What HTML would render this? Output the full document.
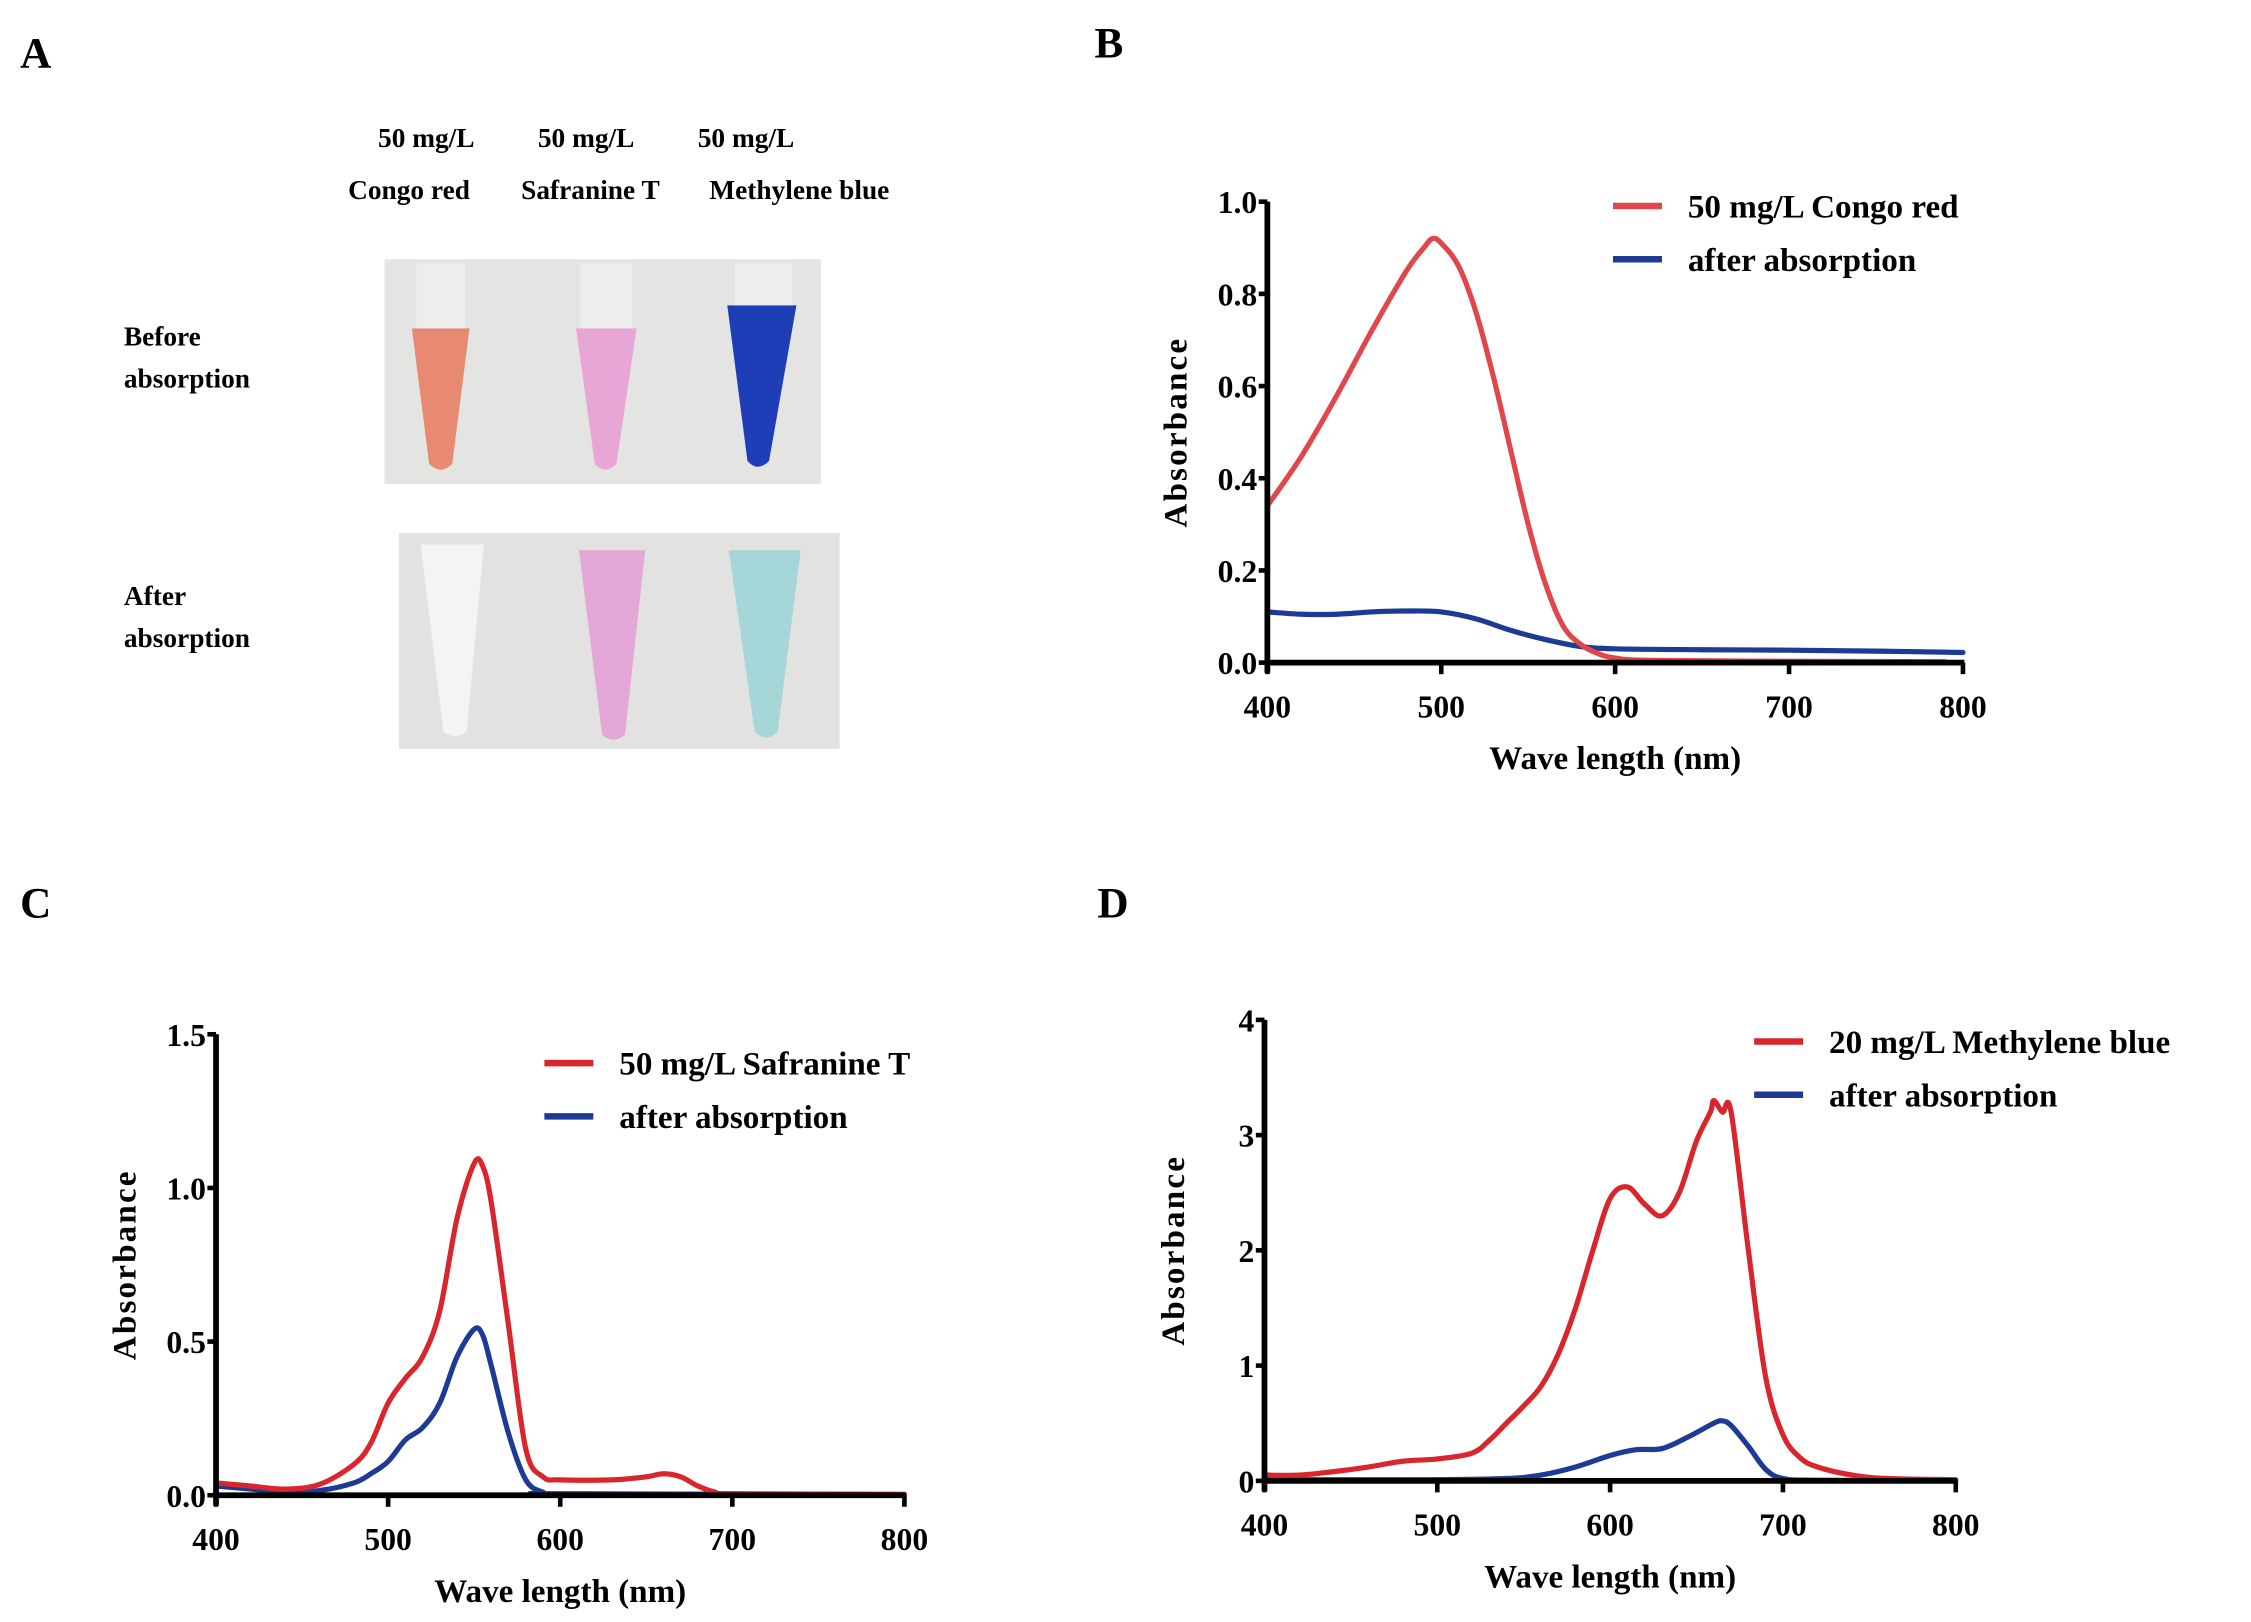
<!DOCTYPE html>
<html><head><meta charset="utf-8"><style>
html,body{margin:0;padding:0;background:#fff;}
svg{display:block;font-family:"Liberation Serif",serif;font-weight:bold;}
</style></head><body>
<svg id="fig" width="2251" height="1622" viewBox="0 0 1563 1126" preserveAspectRatio="none" xmlns="http://www.w3.org/2000/svg">
<g>
<text x="14" y="47" font-size="30">A</text>
<text x="296" y="102" font-size="19" text-anchor="middle">50 mg/L</text>
<text x="407" y="102" font-size="19" text-anchor="middle">50 mg/L</text>
<text x="518" y="102" font-size="19" text-anchor="middle">50 mg/L</text>
<text x="284" y="138" font-size="19" text-anchor="middle">Congo red</text>
<text x="410" y="138" font-size="19" text-anchor="middle">Safranine T</text>
<text x="555" y="138" font-size="19" text-anchor="middle">Methylene blue</text>
<text x="86" y="240" font-size="19">Before</text>
<text x="86" y="269" font-size="19">absorption</text>
<text x="86" y="420" font-size="19">After</text>
<text x="86" y="449" font-size="19">absorption</text>
<rect x="267" y="180" width="303" height="156" fill="#e4e4e2"/>
<rect x="277" y="370" width="306" height="150" fill="#e2e3e0"/>
<path d="M286 228 L326 228 L314 322 Q306 330 298 322 Z" fill="#e88a72"/>
<path d="M400 228 L442 228 L428 322 Q420 330 413 322 Z" fill="#e7a6d6"/>
<path d="M505 212 L553 212 L534 320 Q526 328 519 320 Z" fill="#1e3eb8"/>
<rect x="289" y="183" width="34" height="45" fill="#efefee" opacity="0.8"/>
<rect x="403" y="183" width="36" height="45" fill="#efefee" opacity="0.8"/>
<rect x="510" y="183" width="40" height="29" fill="#efefee" opacity="0.8"/>
<path d="M292 378 L336 378 L324 508 Q316 514 308 508 Z" fill="#f4f4f3"/>
<path d="M402 382 L448 382 L434 510 Q426 517 418 510 Z" fill="#e4a7d8"/>
<path d="M506 382 L556 382 L540 508 Q532 516 524 508 Z" fill="#a6d7d8"/>
</g>
<g id="charts"></g>
</svg>
<script>
// Panel B data
const bX = [400,420,440,460,480,490,495,500,510,520,530,540,550,560,570,580,590,600,620,700,790];
const bRed = [0.34,0.45,0.58,0.72,0.85,0.90,0.92,0.91,0.86,0.76,0.62,0.46,0.30,0.17,0.08,0.04,0.02,0.01,0.005,0.003,0.002];
const bBlueX = [400,420,440,460,480,500,520,540,560,580,600,650,700,750,800];
const bBlue = [0.11,0.105,0.105,0.11,0.112,0.11,0.095,0.07,0.05,0.035,0.03,0.028,0.027,0.025,0.022];
const bYTicks = ["0.0","0.2","0.4","0.6","0.8","1.0"];
// Panel C data
const cX = [400,420,440,460,480,490,500,510,520,530,540,550,555,560,570,580,590,600,630,650,660,670,680,690,700,800];
const cRed = [0.04,0.03,0.02,0.035,0.1,0.17,0.3,0.38,0.45,0.6,0.9,1.08,1.07,0.95,0.55,0.15,0.06,0.05,0.05,0.06,0.07,0.06,0.03,0.01,0.005,0.003];
const cBlueX = [400,420,440,460,480,490,500,510,520,530,540,550,555,560,570,580,590,600,800];
const cBlue = [0.03,0.02,0.01,0.015,0.04,0.07,0.11,0.18,0.22,0.3,0.45,0.54,0.52,0.42,0.2,0.05,0.01,0.005,0.002];
const cYTicks = ["0.0","0.5","1.0","1.5"];
// Panel D data
const dX = [400,420,440,460,480,500,520,530,540,550,560,570,580,590,600,610,620,630,640,650,658,660,665,670,680,690,700,710,720,740,760,800];
const dRed = [0.05,0.05,0.08,0.12,0.17,0.19,0.24,0.35,0.5,0.65,0.82,1.1,1.5,2.0,2.45,2.55,2.4,2.3,2.5,2.95,3.2,3.3,3.2,3.2,2.0,0.9,0.4,0.2,0.12,0.05,0.02,0.01];
const dBlueX = [400,500,540,560,580,600,615,630,645,660,665,670,680,690,700,720,800];
const dBlue = [0.01,0.01,0.02,0.05,0.12,0.22,0.27,0.28,0.38,0.5,0.52,0.48,0.3,0.1,0.02,0.005,0.003];
const dYTicks = ["0","1","2","3","4"];
const xTicks = ["400","500","600","700","800"];

const NS="http://www.w3.org/2000/svg";
const root=document.getElementById('charts');
function mk(tag,attrs,parent){const e=document.createElementNS(NS,tag);for(const k in attrs)e.setAttribute(k,attrs[k]);parent.appendChild(e);return e;}
function smooth(pts){
  let d='M'+pts[0][0]+','+pts[0][1];
  for(let i=0;i<pts.length-1;i++){
    const p0=pts[Math.max(0,i-1)],p1=pts[i],p2=pts[i+1],p3=pts[Math.min(pts.length-1,i+2)];
    const c1x=p1[0]+(p2[0]-p0[0])/6,c1y=p1[1]+(p2[1]-p0[1])/6;
    const c2x=p2[0]-(p3[0]-p1[0])/6,c2y=p2[1]-(p3[1]-p1[1])/6;
    d+=` C${c1x},${c1y} ${c2x},${c2y} ${p2[0]},${p2[1]}`;
  }
  return d;
}

function chart(o){
  const g=mk('g',{},root);
  
  
  const ymax=parseFloat(o.yt[o.yt.length-1]);
  const sx=v=>o.x0+(v-400)/400*(o.x1-o.x0);
  const sy=v=>o.y0-v/ymax*(o.y0-o.y1);
  const lab=mk('text',{x:o.lx,y:o.ly,'font-size':30},g);lab.textContent=o.letter;
  
  
  const series=[[o.rx,o.red,o.redCol,'red-series'],[o.bx,o.blue,'#1d3a94','blue-series']];
  [series[1],series[0]].forEach(s=>{
    const pts=s[0].map((x,i)=>[sx(x),sy(s[1][i])]);
    const p=mk('path',{d:smooth(pts),fill:'none',stroke:s[2],'stroke-width':3.6,'stroke-linejoin':'round','stroke-linecap':'round'},g);
    
    
  });
  const ya=mk('line',{x1:o.x0,y1:o.y1,x2:o.x0,y2:o.y0+7,stroke:'#000','stroke-width':4},g);
  
  
  const xa=mk('line',{x1:o.x0-2,y1:o.y0,x2:o.x1+1,y2:o.y0,stroke:'#000','stroke-width':4},g);
  
  
  o.yt.forEach(t=>{const v=parseFloat(t);const y=sy(v);
    mk('line',{x1:o.x0-6,y1:y,x2:o.x0,y2:y,stroke:'#000','stroke-width':3.2},g);
    const tx=mk('text',{x:o.x0-7,y:y+8,'font-size':22,'text-anchor':'end'},g);tx.textContent=t;
    
    
  });
  xTicks.forEach(t=>{const x=sx(parseFloat(t));
    mk('line',{x1:x,y1:o.y0,x2:x,y2:o.y0+8,stroke:'#000','stroke-width':3.2},g);
    const tx=mk('text',{x:x,y:o.y0+38,'font-size':22,'text-anchor':'middle'},g);tx.textContent=t;
    
    
  });
  const xt=mk('text',{x:(o.x0+o.x1)/2,y:o.y0+74,'font-size':23,'text-anchor':'middle'},g);xt.textContent='Wave length (nm)';
  
  
  const cy=(o.y0+o.y1)/2, cx=o.x0-56;
  const yt=mk('text',{x:cx,y:cy,'font-size':23,'text-anchor':'middle','letter-spacing':1.5,transform:`rotate(-90 ${cx} ${cy})`},g);yt.textContent='Absorbance';
  
  
  [[o.leg[0],o.redCol,o.legText],[o.leg[0]+37,'#1d3a94','after absorption']].forEach(L=>{
    const ln=mk('line',{x1:o.legX,y1:L[0],x2:o.legX+34,y2:L[0],stroke:L[1],'stroke-width':4.5},g);
    
    
    const tx=mk('text',{x:o.legX+52,y:L[0]+8,'font-size':23},g);tx.textContent=L[2];
    
    
  });
}
chart({name:'panel-b-chart',letter:'B',lx:760,ly:40,x0:880,x1:1363,y0:460,y1:140,yt:bYTicks,rx:bX,red:bRed,bx:bBlueX,blue:bBlue,redCol:'#e0464a',legX:1120,leg:[143],legText:'50 mg/L Congo red'});
chart({name:'panel-c-chart',letter:'C',lx:14,ly:637,x0:150,x1:628,y0:1038,y1:718,yt:cYTicks,rx:cX,red:cRed,bx:cBlueX,blue:cBlue,redCol:'#d9262c',legX:378,leg:[738],legText:'50 mg/L Safranine T'});
chart({name:'panel-d-chart',letter:'D',lx:762,ly:637,x0:878,x1:1358,y0:1028,y1:708,yt:dYTicks,rx:dX,red:dRed,bx:dBlueX,blue:dBlue,redCol:'#d9262c',legX:1218,leg:[723],legText:'20 mg/L Methylene blue'});
</script>
</body></html>
